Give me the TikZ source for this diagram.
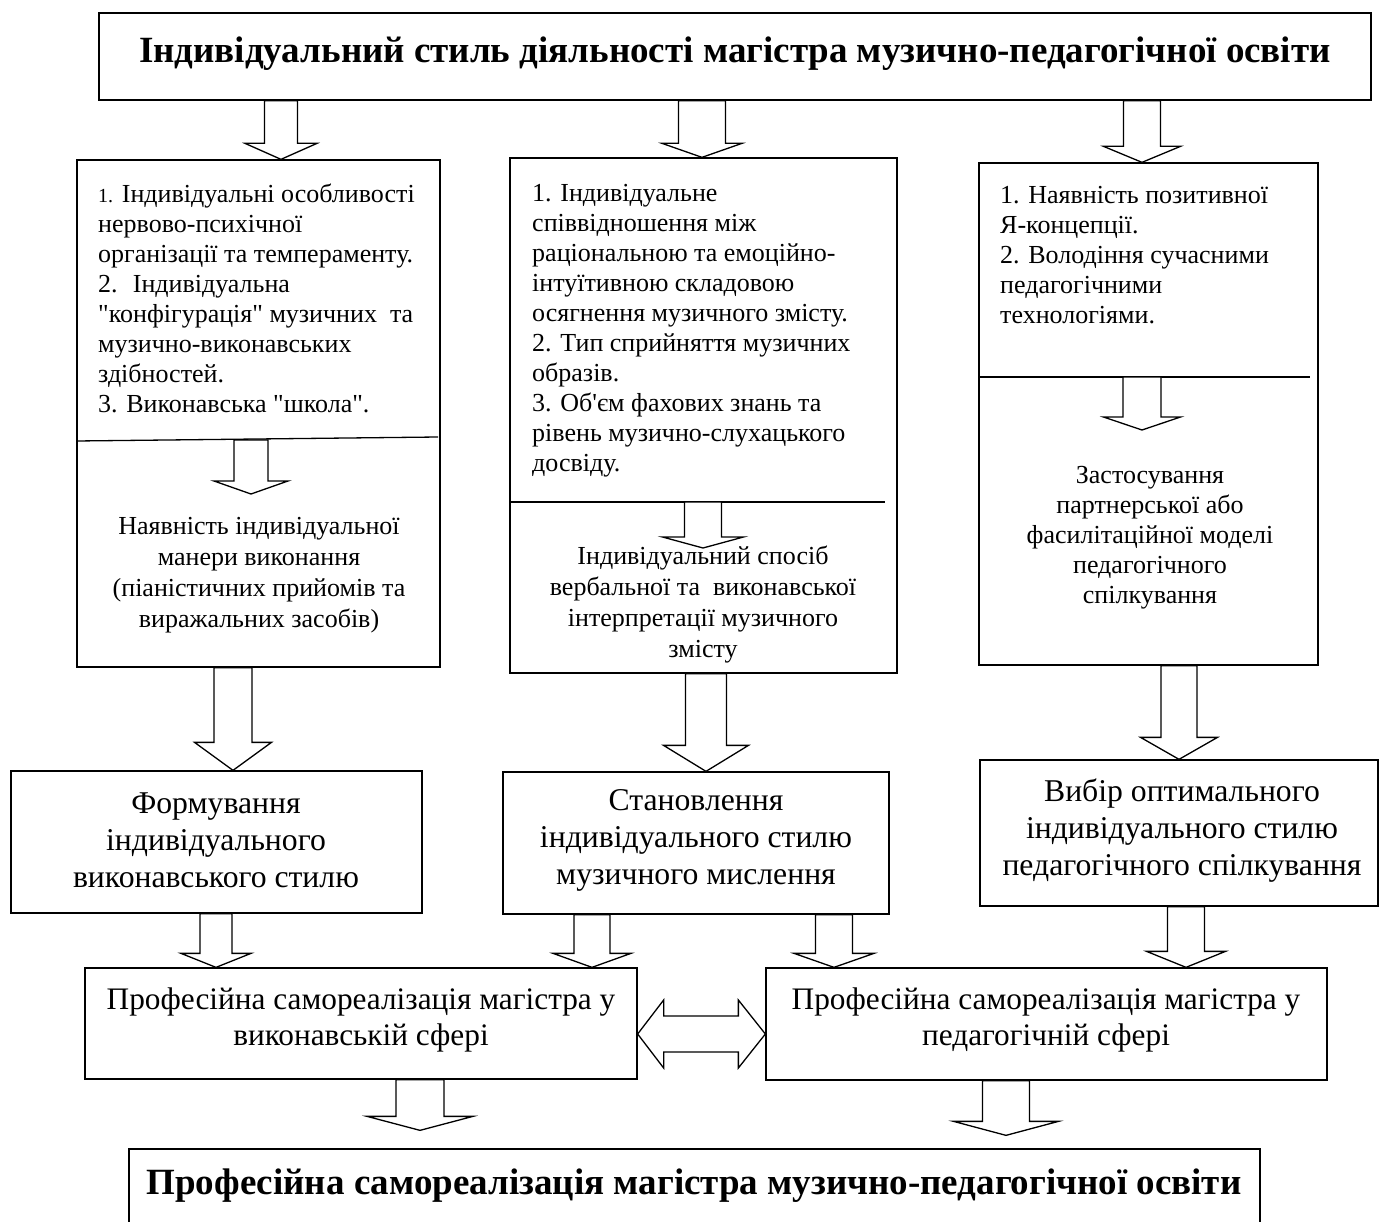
\documentclass[tikz,border=0pt]{standalone}
\usepackage{fontspec}
\setmainfont{Liberation Serif}[Ligatures=TeXOff]
\usetikzlibrary{calc,fit}
\tikzset{
  frame/.style={draw, line width=1.3pt, inner sep=0pt},
  blk/.style={draw, line width=1.3pt, fill=white, line join=miter},
  divline/.style={draw, line width=1.3pt},
  smalltxt/.style={font=\fontsize{26}{30}\selectfont, inner sep=0pt},
  midtxt/.style={font=\fontsize{31.7}{37}\selectfont, inner sep=0pt, align=center},
  proftxt/.style={font=\fontsize{31.3}{36}\selectfont, inner sep=0pt, align=center},
  titletxt/.style={font=\fontsize{37}{40}\selectfont\bfseries, inner sep=0pt},
}
% vertical block arrow: start, end(tip), shaft half width, head half width, head length
\newcommand\varr[5]{\draw[blk] let \p1=#1, \p2=#2 in
  (\x1-#3,\y1) -- (\x1-#3,\y2+#5) -- (\x1-#4,\y2+#5) -- (\x1,\y2) --
  (\x1+#4,\y2+#5) -- (\x1+#3,\y2+#5) -- (\x1+#3,\y1) -- cycle;}
\begin{document}
\begin{tikzpicture}[x=1pt,y=1pt]
\useasboundingbox (0,0) rectangle (1381,-1222);
\clip (0,0) rectangle (1381,-1222);
\fill[white] (0,0) rectangle (1381,-1222);

% boxes
\node[frame, fit={(99,-13) (1371,-100)}] (T) {};
\node[frame, fit={(77,-160) (440,-667)}] (L) {};
\node[frame, fit={(510,-158) (897,-673)}] (M) {};
\node[frame, fit={(979,-163) (1318,-665)}] (R) {};
\node[frame, fit={(11,-771) (422,-913)}] (F) {};
\node[frame, fit={(503,-772) (889,-914)}] (S) {};
\node[frame, fit={(980,-760) (1378,-906)}] (V) {};
\node[frame, fit={(85,-968) (637,-1079)}] (PL) {};
\node[frame, fit={(766,-968) (1327,-1080)}] (PR) {};
\node[frame, fit={(129,-1149) (1260,-1250)}] (B) {};

% dividers
\draw[divline] (L.west |- 0,-441) -- (438,-437);
\draw[divline] (M.west |- 0,-502) -- (885,-502);
\draw[divline] (R.west |- 0,-377) -- (1310,-377);

\coordinate (Ld) at (251,-440);
\coordinate (Lt) at (251,-494);
\coordinate (Md) at (703,-502);
\coordinate (Mt) at (703,-548);
\coordinate (Rd) at (1142,-377);
\coordinate (Rt) at (1142,-430);

% block arrows
\varr{(T.south -| 281,0)}{(L.north -| 281,0)}{16.5pt}{36pt}{16pt}
\varr{(T.south -| 702,0)}{(M.north -| 702,0)}{23.5pt}{40pt}{14pt}
\varr{(T.south -| 1142,0)}{(R.north -| 1142,0)}{18.5pt}{38.5pt}{16pt}
\varr{(Ld)}{(Lt)}{17pt}{37pt}{13pt}
\varr{(Md)}{(Mt)}{18.5pt}{40.5pt}{11pt}
\varr{(Rd)}{(Rt)}{19pt}{38.5pt}{13pt}
\varr{(L.south -| 233,0)}{(F.north -| 233,0)}{19pt}{38.5pt}{28pt}
\varr{(M.south -| 706,0)}{(S.north -| 706,0)}{20.5pt}{42.5pt}{26pt}
\varr{(R.south -| 1179,0)}{(V.north -| 1179,0)}{18pt}{38.5pt}{22pt}
\varr{(F.south -| 216,0)}{(PL.north -| 216,0)}{16pt}{35pt}{14pt}
\varr{(S.south -| 592,0)}{(PL.north -| 592,0)}{18pt}{39pt}{14pt}
\varr{(S.south -| 834,0)}{(PR.north -| 834,0)}{18.5pt}{40pt}{14pt}
\varr{(V.south -| 1186,0)}{(PR.north -| 1186,0)}{18.5pt}{39.5pt}{16pt}
\varr{(PL.south -| 420,0)}{($(B.north -| 420,0)+(0,18)$)}{24pt}{53pt}{14pt}
\varr{(PR.south -| 1006,0)}{($(B.north -| 1006,0)+(0,13)$)}{23.5pt}{52.5pt}{14pt}

% double arrow
\draw[blk] let \p1=(PL.east |- 0,-1034), \p2=(PR.west |- 0,-1034) in
  (\x1,\y1) -- (\x1+26pt,\y1+34pt) -- (\x1+26pt,\y1+18pt) -- (\x2-27pt,\y1+18pt) --
  (\x2-27pt,\y1+34pt) -- (\x2,\y1) -- (\x2-27pt,\y1-34pt) -- (\x2-27pt,\y1-18pt) --
  (\x1+26pt,\y1-18pt) -- (\x1+26pt,\y1-34pt) -- cycle;

% texts
\node[titletxt] (Ttxt) at (735,-54) {Індивідуальний стиль діяльності магістра музично-педагогічної освіти};

\node[smalltxt, anchor=north west, align=left] (Ltxt) at (98,-184)
 {{\fontsize{20}{30}\selectfont 1.} Індивідуальні особливості\\
  нервово-психічної\\
  організації та темпераменту.\\
  2.~ Індивідуальна\\
  "конфігурація" музичних~ та\\
  музично-виконавських\\
  здібностей.\\
  3. Виконавська "школа".};
\node[smalltxt, align=center, font=\fontsize{26}{31}\selectfont] (Lbot) at (259,-575)
 {Наявність індивідуальної\\ манери виконання\\ (піаністичних прийомів та\\ виражальних засобів)};

\node[smalltxt, anchor=north west, align=left] (Mtxt) at (532,-184)
 {1. Індивідуальне\\
  співвідношення між\\
  раціональною та емоційно-\\
  інтуїтивною складовою\\
  осягнення музичного змісту.\\
  2. Тип сприйняття музичних\\
  образів.\\
  3. Об'єм фахових знань та\\
  рівень музично-слухацького\\
  досвіду.};
\node[smalltxt, align=center, font=\fontsize{26}{31}\selectfont] (Mbot) at (703,-604)
 {Індивідуальний спосіб\\ вербальної та~ виконавської\\ інтерпретації музичного\\ змісту};

\node[smalltxt, anchor=north west, align=left] (Rtxt) at (1000,-186)
 {1. Наявність позитивної\\
  Я-концепції.\\
  2. Володіння сучасними\\
  педагогічними\\
  технологіями.};
\node[smalltxt, align=center] (Rbot) at (1150,-538)
 {Застосування\\ партнерської або\\ фасилітаційної моделі\\ педагогічного\\ спілкування};

\node[midtxt] (Ftxt) at (216,-840) {Формування\\ індивідуального\\ виконавського стилю};
\node[midtxt] (Stxt) at (696,-840) {Становлення\\ індивідуального стилю\\ музичного мислення};
\node[midtxt] (Vtxt) at (1182,-831) {Вибір оптимального\\ індивідуального стилю\\ педагогічного спілкування};
\node[proftxt] (PLtxt) at (361,-1020) {Професійна самореалізація магістра у\\ виконавській сфері};
\node[proftxt] (PRtxt) at (1046,-1020) {Професійна самореалізація магістра у\\ педагогічній сфері};
\node[titletxt] (Btxt) at (694,-1186) {Професійна самореалізація магістра музично-педагогічної освіти};
\end{tikzpicture}
\end{document}
